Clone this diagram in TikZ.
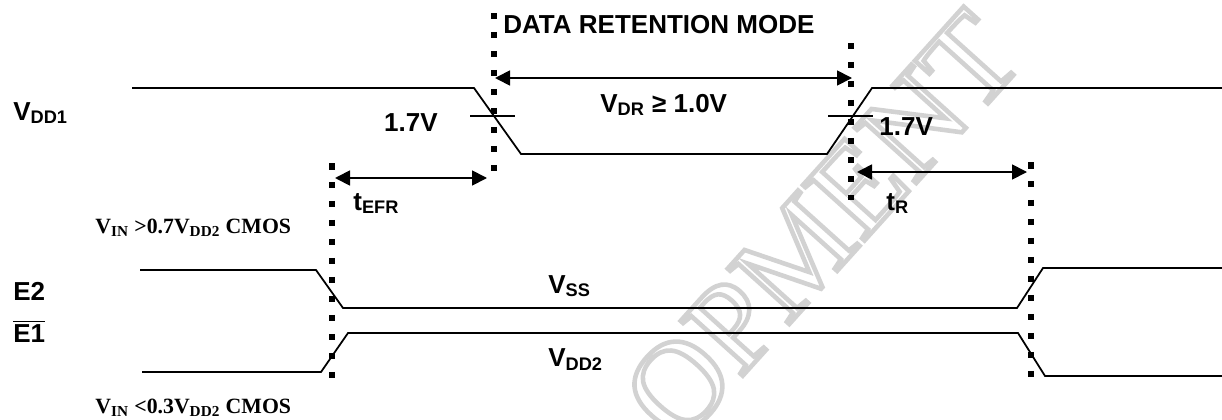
\documentclass[tikz,border=0pt]{standalone}
\usepackage{fontspec}
\setmainfont{Liberation Sans}
\newfontfamily\timesb{Liberation Serif}
\usetikzlibrary{arrows.meta}

\begin{document}
\begin{tikzpicture}[
  x=0.02cm,y=-0.02cm,
  lbl/.style={inner sep=0pt,anchor=base west,font=\fontsize{14.8}{16}\selectfont\bfseries},
  cmos/.style={inner sep=0pt,anchor=base west,font=\fontsize{12.4}{14}\selectfont\timesb\bfseries},
  sig/.style={line width=1pt,line join=miter},
  guide/.style={line width=0.11cm,dash pattern=on 0.13cm off 0.25cm},
  dim/.style={{Triangle[length=0.3cm,width=0.3cm]}-{Triangle[length=0.3cm,width=0.3cm]},line width=1pt},
]
\useasboundingbox (0,0) rectangle (1222,419);

% watermark
\node[text=gray!35,rotate=48,inner sep=0pt,font=\fontsize{72}{72}\selectfont\timesb] (wm) at (822,226)
  {\special{pdf:literal 1 Tr 2.6 w}OPMENT\special{pdf:literal 0 Tr}};

% guide lines
\coordinate (gEt) at (332,163); \coordinate (gEb) at (332,380);
\coordinate (gLt) at (494,13);  \coordinate (gLb) at (494,173);
\coordinate (gRt) at (851,43);  \coordinate (gRb) at (851,200);
\coordinate (gTt) at (1031,162); \coordinate (gTb) at (1031,383);
\draw[guide] (gEt) -- (gEb);
\draw[guide] (gLt) -- (gLb);
\draw[guide] (gRt) -- (gRb);
\draw[guide] (gTt) -- (gTb);

% VDD1
\draw[sig] (132,88) -- (474,88) -- (521,154) -- (827,154) -- (872,88) -- (1222,88);
\draw[sig] (470,116) -- (515,116);
\draw[sig] (828,116) -- (873,116);

% E2 and E1
\draw[sig] (140,270) -- (316,270) -- (343,308) -- (1017,308) -- (1043,268) -- (1222,268);
\draw[sig] (142,372) -- (321,372) -- (348,333) -- (1018,333) -- (1045,376) -- (1222,376);

% timing arrows
\coordinate (aDRl) at (495,78);  \coordinate (aDRr) at (852,78);
\coordinate (aEl) at (335,178);  \coordinate (aEr) at (487,178);
\coordinate (aTl) at (857,172);  \coordinate (aTr) at (1027,172);
\draw[dim] (aDRl) -- (aDRr);
\draw[dim] (aEl) -- (aEr);
\draw[dim] (aTl) -- (aTr);

% labels
\node[lbl] (mode) at (503,33) {DATA RETENTION MODE};
\node[lbl] (vdd1) at (13,120) {V\textsubscript{DD1}};
\node[lbl,anchor=base east] (lvl1) at (438,131) {1.7V};
\node[lbl] (vdr) at (600,112) {V\textsubscript{DR} ≥ 1.0V};
\node[lbl] (lvl2) at (879,135) {1.7V};
\node[lbl] (tefr) at (353,210) {t\textsubscript{EFR}};
\node[lbl] (tr) at (886,210) {t\textsubscript{R}};
\node[lbl] (e2) at (13,300) {E2};
\node[lbl] (e1) at (13,342) {$\overline{\hbox{E1}}$};
\node[lbl] (vss) at (548,293) {V\textsubscript{SS}};
\node[lbl] (vdd2) at (548,366) {V\textsubscript{DD2}};
\node[cmos] (vinh) at (95,233) {V\textsubscript{IN} >0.7V\textsubscript{DD2} CMOS};
\node[cmos] (vinl) at (95,413) {V\textsubscript{IN} <0.3V\textsubscript{DD2} CMOS};
\end{tikzpicture}
\end{document}
